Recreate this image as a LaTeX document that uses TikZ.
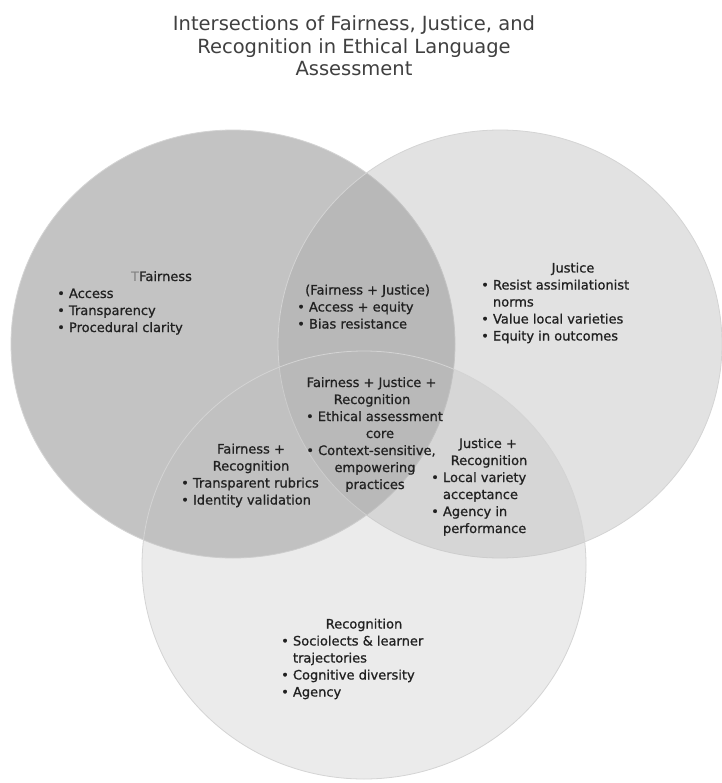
\documentclass[tikz,border=0pt]{standalone}
\usepackage{fontspec}
\newfontfamily\bodyfont{DejaVu Sans}[FakeBold=0.9]
\newfontfamily\plainfont{DejaVu Sans}
\definecolor{fillF}{gray}{0.227}
\definecolor{fillJ}{gray}{0.627}
\definecolor{fillR}{gray}{0.741}
\definecolor{edgec}{gray}{0.83}
\definecolor{bodyc}{gray}{0.13}
\definecolor{titlec}{gray}{0.25}
\newcommand\contind{\phantom{•\ }}
\tikzset{
  body/.style={font=\bodyfont\fontsize{13}{17}\selectfont, text=bodyc, inner sep=0pt},
  lft/.style={body, anchor=base west},
  ctr/.style={body, anchor=base},
  ttl/.style={font=\plainfont\fontsize{19.5}{22.5}\selectfont, text=titlec, inner sep=0pt, anchor=base},
  circ/.style={draw=edgec, line width=0.8pt, fill opacity=0.3}
}
\begin{document}
\begin{tikzpicture}[x=1pt,y=-1pt]
\fill[white] (0,0) rectangle (721,783);
\useasboundingbox (0,0) rectangle (721,783);

% circles
\path[circ, fill=fillF] (233,344) ellipse [x radius=222pt, y radius=214pt];
\path[circ, fill=fillJ] (500,344) ellipse [x radius=222pt, y radius=214pt];
\path[circ, fill=fillR] (364,565) ellipse [x radius=222pt, y radius=214pt];

% title
\node[ttl] (t1) at (354,31) {Intersections of Fairness, Justice, and};
\node[ttl] (t2) at (354,53.5) {Recognition in Ethical Language};
\node[ttl] (t3) at (354,76) {Assessment};

% Fairness
\node[lft] (fh) at (131,281) {{\plainfont\color{gray}T}Fairness};
\node[lft] (f1) at (57,298) {• Access};
\node[lft] (f2) at (57,315) {• Transparency};
\node[lft] (f3) at (57,332) {• Procedural clarity};

% Fairness + Justice
\node[lft] (fjh) at (305,294.5) {(Fairness + Justice)};
\node[lft] (fj1) at (297,311.5) {• Access + equity};
\node[lft] (fj2) at (297,328.5) {• Bias resistance};

% Justice
\node[ctr] (jh) at (573,272.5) {Justice};
\node[lft] (j1) at (481,289.5) {• Resist assimilationist};
\node[lft] (j1b) at (481,306.5) {\contind norms};
\node[lft] (j2) at (481,323.5) {• Value local varieties};
\node[lft] (j3) at (481,340.5) {• Equity in outcomes};

% Fairness + Justice + Recognition
\node[ctr] (ch1) at (371.5,387) {Fairness + Justice +};
\node[ctr] (ch2) at (372,404) {Recognition};
\node[ctr] (c1) at (374.5,421) {• Ethical assessment};
\node[ctr] (c1b) at (380,438) {core};
\node[ctr] (c2) at (371,455) {• Context-sensitive,};
\node[ctr] (c2b) at (375,472) {empowering};
\node[ctr] (c2c) at (375,489) {practices};

% Fairness + Recognition
\node[ctr] (frh1) at (251,453.5) {Fairness +};
\node[ctr] (frh2) at (251,470.5) {Recognition};
\node[lft] (fr1) at (181,487.5) {• Transparent rubrics};
\node[lft] (fr2) at (181,504.5) {• Identity validation};

% Justice + Recognition
\node[ctr] (jrh1) at (488,448) {Justice +};
\node[ctr] (jrh2) at (489,465) {Recognition};
\node[lft] (jr1) at (431,482) {• Local variety};
\node[lft] (jr1b) at (431,499) {\contind acceptance};
\node[lft] (jr2) at (431,516) {• Agency in};
\node[lft] (jr2b) at (431,533) {\contind performance};

% Recognition
\node[ctr] (rh) at (364,628.5) {Recognition};
\node[lft] (r1) at (281,645.5) {• Sociolects \& learner};
\node[lft] (r1b) at (281,662.5) {\contind trajectories};
\node[lft] (r2) at (281,679.5) {• Cognitive diversity};
\node[lft] (r3) at (281,696.5) {• Agency};
\end{tikzpicture}
\end{document}
